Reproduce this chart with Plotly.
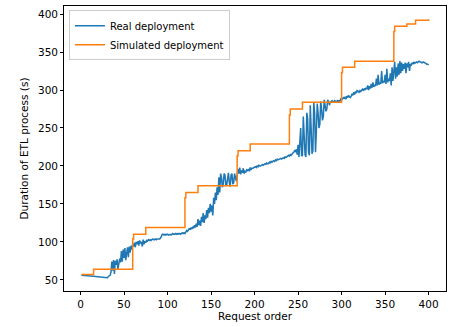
import plotly.graph_objects as go

# Real deployment: duration (s) per request 1..400
real_y = [
    56, 56, 56, 55.8, 55.7, 55.6, 55.5, 55.4, 55.3, 55.2,
    55.1, 55, 54.9, 54.8, 54.7, 54.6, 54.5, 54.4, 54.3, 54.2,
    54, 53.9, 53.8, 53.6, 53.5, 53.3, 53.1, 52.9, 52.6, 52.4,
    53, 54.5, 55.5, 56, 60, 74, 62, 76, 58, 75,
    70, 77, 64, 76, 78, 73, 88, 74, 90, 79,
    92, 76, 84, 93, 80, 94, 86, 95, 90, 97,
    94, 99, 93, 100, 97, 101, 95, 102, 98, 100,
    94, 103, 97, 101, 99, 102, 101, 103, 102, 103,
    102, 103, 104, 103, 103, 104, 103, 104, 104, 104,
    104, 105, 108, 110, 110, 109, 110, 109, 110, 110,
    109, 110, 110, 109, 110, 111, 110, 110, 111, 110,
    111, 110, 111, 111, 110, 111, 112, 111, 112, 111,
    113, 115, 114, 116, 118, 116, 119, 117, 120, 118,
    122, 119, 124, 120, 130, 122, 128, 121, 133, 126,
    138, 125, 135, 130, 142, 132, 145, 138, 150, 140,
    148, 135, 158, 150, 165, 155, 172, 162, 185, 165,
    190, 185, 172, 176, 190, 188, 174, 175, 189, 191,
    178, 173, 188, 190, 176, 178, 190, 186, 180, 188,
    196, 190, 198, 189, 194, 191, 197, 190, 193, 192,
    195, 194, 196, 193, 198, 195, 197, 197, 198, 198,
    199, 198, 200, 199, 201, 200, 200, 201, 202, 201,
    202, 203, 202, 204, 203, 203, 205, 204, 206, 205,
    206, 207, 206, 208, 207, 209, 208, 209, 209, 210,
    209, 210, 211, 210, 212, 211, 212, 213, 214, 213,
    215, 214, 216, 217, 218, 220, 219, 222, 215, 228,
    212, 230, 250, 214, 213, 265, 240, 215, 212, 270,
    262, 218, 214, 280, 250, 216, 220, 284, 270, 218,
    245, 282, 270, 250, 255, 285, 275, 260, 265, 287,
    280, 272, 275, 287, 285, 280, 284, 285, 286, 285,
    284, 286, 285, 284, 286, 285, 286, 285, 288, 287,
    288, 290, 289, 291, 288, 292, 290, 293, 291, 290,
    292, 295, 293, 297, 294, 298, 296, 300, 298, 297,
    299, 298, 300, 301, 299, 302, 300, 303, 301, 306,
    300, 305, 302, 308, 303, 310, 304, 307, 305, 315,
    306, 320, 307, 310, 308, 325, 309, 312, 310, 320,
    308, 328, 310, 315, 312, 322, 306, 330, 312, 325,
    337, 315, 330, 318, 335, 320, 338, 322, 336, 325,
    334, 328, 336, 322, 335, 330, 337, 325, 334, 333,
    336, 334, 337, 335, 336, 337, 336, 337, 338, 337,
    337, 336, 336, 337, 336, 335, 335, 334, 334, 333,
]
real_x = list(range(1, len(real_y) + 1))

# Simulated deployment: step breakpoints (request order, duration held until next)
sim_x = [1, 15, 60, 61, 75, 120, 121, 135, 180, 181, 195,
         240, 241, 255, 300, 301, 315, 360, 361, 375, 385, 400]
sim_y = [57, 64, 104, 110, 119, 158, 165, 174, 213, 220, 229,
         267, 275, 284, 323, 330, 338, 377, 384, 387, 392, 393]

x_ticks = [0, 50, 100, 150, 200, 250, 300, 350, 400]
y_ticks = [50, 100, 150, 200, 250, 300, 350, 400]

FONT = "DejaVu Sans"
FS = 10.5

fig = go.Figure()
fig.add_trace(go.Scatter(x=real_x, y=real_y, mode="lines", name="Real deployment",
                         line=dict(color="#1f77b4", width=1.5)))
fig.add_trace(go.Scatter(x=sim_x, y=sim_y, mode="lines", name="Simulated deployment",
                         line=dict(color="#ff7f0e", width=1.5, shape="hv")))

axis_common = dict(showline=True, linecolor="#000000", linewidth=0.8, mirror=True,
                   showgrid=False, zeroline=False, ticks="outside", ticklen=3,
                   tickwidth=0.8, tickcolor="#000000",
                   tickfont=dict(family=FONT, size=FS, color="#000000"))

fig.update_layout(
    width=454, height=327,
    margin=dict(l=64, r=8, t=6, b=36),
    paper_bgcolor="white", plot_bgcolor="white",
    font=dict(family=FONT, size=FS, color="#000000"),
    xaxis=dict(range=[-18.95, 419.95], tickvals=x_ticks,
               title=dict(text="Request order", standoff=4,
                          font=dict(family=FONT, size=FS)), **axis_common),
    yaxis=dict(range=[35.4, 410.6], tickvals=y_ticks,
               title=dict(text="Duration of ETL process (s)", standoff=7,
                          font=dict(family=FONT, size=FS)), **axis_common),
    legend=dict(x=0.013, y=0.985, xanchor="left", yanchor="top",
                bgcolor="rgba(255,255,255,0.8)", bordercolor="#cccccc", borderwidth=1,
                font=dict(family=FONT, size=10), itemwidth=30,
                tracegroupgap=0),
    showlegend=True,
)

fig.write_html("out.html")
